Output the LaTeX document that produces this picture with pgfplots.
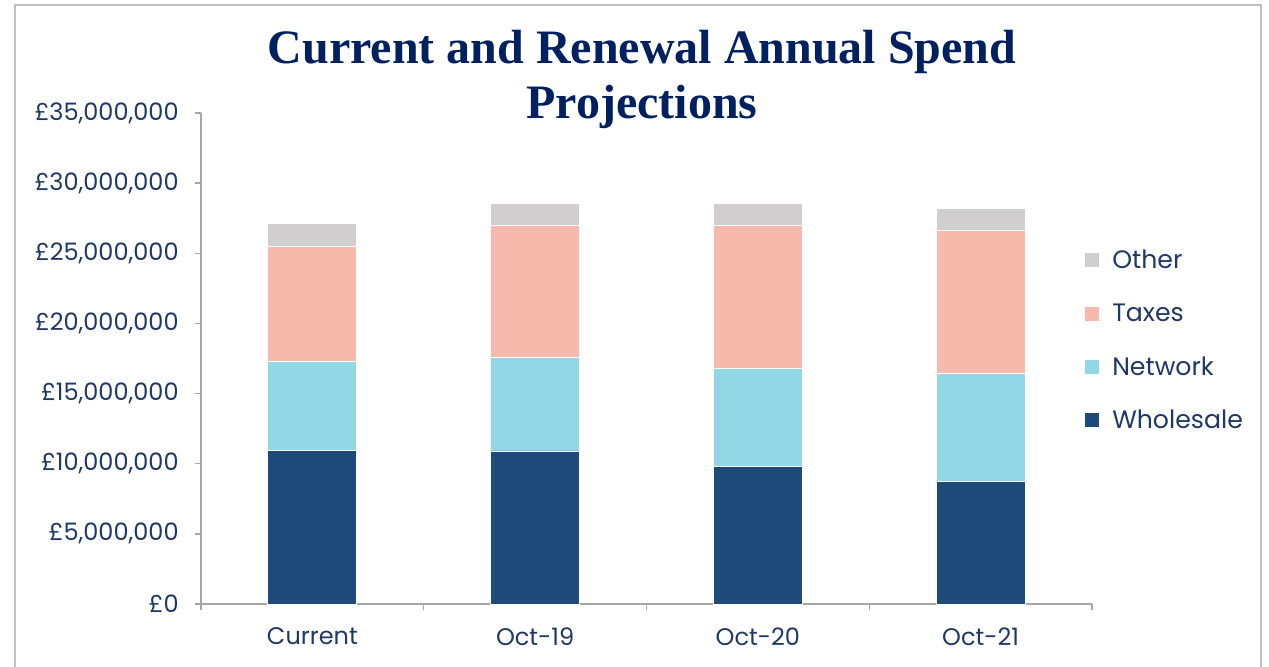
\documentclass[border=0pt]{standalone}
\usepackage{pgfplots}
\pgfplotsset{compat=1.18}
\usepackage{fontspec}
\setmainfont{Poppins}
\newfontfamily\titlefont{Liberation Serif}
\definecolor{cWhole}{HTML}{1F4A7C}
\definecolor{cNet}{HTML}{92D7E6}
\definecolor{cTax}{HTML}{F7B9AC}
\definecolor{cOther}{HTML}{D0CECE}
\definecolor{cTitle}{HTML}{002060}
\definecolor{cText}{HTML}{1F3864}
\definecolor{cAxis}{HTML}{A6A6A6}
\begin{document}
\begin{tikzpicture}
\path[use as bounding box] (0pt,0pt) rectangle (634.5pt,333pt);
\draw[color=black!25, line width=1pt] (7.5pt,-5pt) -- (7.5pt,330.5pt) -- (630.5pt,330.5pt) -- (630.5pt,-5pt);
\node[font=\titlefont\bfseries\fontsize{24}{28}\selectfont, text=cTitle, anchor=base] at (321pt,301.5pt) {Current and Renewal Annual Spend};
\node[font=\titlefont\bfseries\fontsize{24}{28}\selectfont, text=cTitle, anchor=base] at (321pt,274pt) {Projections};
\begin{axis}[
  at={(100.5pt,31pt)}, anchor=south west,
  scale only axis, width=445.5pt, height=245.5pt,
  xmin=-0.5, xmax=3.5, ymin=0, ymax=35000000,
  ybar stacked, bar width=44.5pt,
  axis x line*=bottom, axis y line*=left,
  axis line style={cAxis, line width=0.7pt, -},
  xtick={0,1,2,3},
  xticklabels={Current,Oct-19,Oct-20,Oct-21},
  xtick style={draw=none},
  extra x ticks={-0.5,0.5,1.5,2.5,3.5},
  extra x tick labels={},
  extra x tick style={xtick style={draw=cAxis, line width=0.7pt}, major tick length=3pt, tick align=outside},
  ytick={0,5000000,10000000,15000000,20000000,25000000,30000000,35000000},
  yticklabels={{£0},{£5,000,000},{£10,000,000},{£15,000,000},{£20,000,000},{£25,000,000},{£30,000,000},{£35,000,000}},
  ytick style={draw=cAxis, line width=0.7pt},
  major tick length=3pt, tick align=outside,
  scaled y ticks=false,
  ticklabel style={font=\fontsize{12}{14}\selectfont, text=cText},
  yticklabel style={inner sep=0pt, xshift=-8pt},
  xticklabel style={inner sep=0pt, yshift=-8.5pt},
  legend style={at={(0.992,0.721)}, anchor=north west, draw=none, fill=none,
    font=\fontsize{12.6}{14}\selectfont, text=cText, inner sep=0pt,
    row sep=14.65pt, column sep=6.5pt,
    nodes={text height=9pt, text depth=3pt, inner sep=0pt, text=cText}},
  legend cell align=left,
  reverse legend,
  legend image code/.code={\fill[#1, draw=none] (0pt,-2.5pt) rectangle (7pt,4.5pt);},
  every axis plot/.append style={draw=white, line width=0.4pt},
]
\addplot[fill=cWhole] coordinates {(0,10930000) (1,10910000) (2,9790000) (3,8750000)};
\addlegendentry{Wholesale}
\addplot[fill=cNet] coordinates {(0,6330000) (1,6660000) (2,7020000) (3,7680000)};
\addlegendentry{Network}
\addplot[fill=cTax] coordinates {(0,8250000) (1,9440000) (2,10200000) (3,10200000)};
\addlegendentry{Taxes}
\addplot[fill=cOther] coordinates {(0,1590000) (1,1570000) (2,1520000) (3,1570000)};
\addlegendentry{Other}
\end{axis}
\end{tikzpicture}
\end{document}
